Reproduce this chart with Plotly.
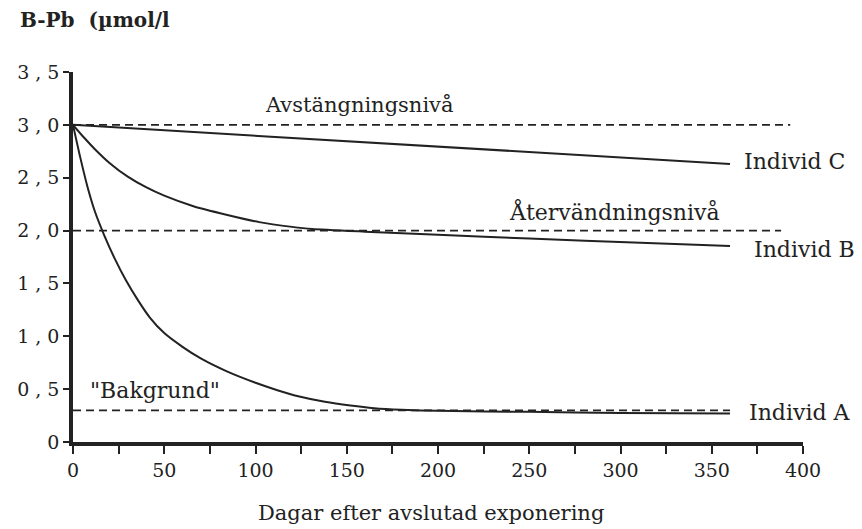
import plotly.graph_objects as go

# --- data ---
days_A = [0, 4, 8, 12, 17, 23, 29, 36, 42, 50, 60, 70, 84, 100, 112, 124, 138, 152, 165, 180, 200, 250, 300, 360]
vals_A = [3.0, 2.69, 2.41, 2.18, 1.96, 1.73, 1.53, 1.33, 1.18, 1.03, 0.90, 0.79, 0.67, 0.56, 0.49, 0.43, 0.38, 0.345, 0.32, 0.305, 0.295, 0.285, 0.275, 0.27]

days_B = [0, 6, 12, 20, 30, 40, 50, 66, 84, 102, 120, 131, 160, 200, 250, 311, 360]
vals_B = [3.0, 2.88, 2.77, 2.64, 2.51, 2.41, 2.33, 2.23, 2.15, 2.08, 2.035, 2.015, 1.99, 1.96, 1.925, 1.885, 1.855]

days_C = [0, 360]
vals_C = [3.0, 2.63]

ref_levels = [3.0, 2.0, 0.3]
ref_ends = [393, 388, 360]

y_tickvals = [0, 0.5, 1.0, 1.5, 2.0, 2.5, 3.0, 3.5]
y_ticktext = ["0", "0 , 5", "1 , 0", "1 , 5", "2 , 0", "2 , 5", "3 , 0", "3 , 5"]
x_tickvals = [0, 50, 100, 150, 200, 250, 300, 350, 400]
x_minor_tickvals = [25, 75, 125, 175, 225, 275, 325, 375]

ink = "#222222"
FONT = "DejaVu Serif"

fig = go.Figure()

for lvl, end in zip(ref_levels, ref_ends):
    fig.add_trace(go.Scatter(x=[0, end], y=[lvl, lvl], mode="lines",
                             line=dict(color=ink, width=1.8, dash="8px,5px"),
                             showlegend=False, hoverinfo="skip"))

for xs, ys in [(days_A, vals_A), (days_B, vals_B), (days_C, vals_C)]:
    fig.add_trace(go.Scatter(x=xs, y=ys, mode="lines",
                             line=dict(color=ink, width=2, shape="spline", smoothing=0.6),
                             showlegend=False, hoverinfo="skip"))

annotations = [
    dict(x=104, y=3.19, text="Avstängningsnivå", size=21),
    dict(x=238, y=2.18, text="Återvändningsnivå", size=22),
    dict(x=8, y=0.49, text="\"Bakgrund\"", size=22),
    dict(x=366.5, y=2.65, text="Individ C", size=22),
    dict(x=372, y=1.82, text="Individ B", size=22),
    dict(x=369.5, y=0.275, text="Individ A", size=22),
]
for a in annotations:
    fig.add_annotation(xref="x", yref="y", x=a["x"], y=a["y"], text=a["text"],
                       showarrow=False, xanchor="left", yanchor="middle",
                       font=dict(family=FONT, size=a["size"], color=ink))

fig.add_annotation(xref="paper", yref="paper", x=-0.0753, y=1.1405,
                   text="<b>B-Pb  (µmol/l</b>", showarrow=False, xanchor="left", yanchor="middle",
                   font=dict(family=FONT, size=20, color=ink))
fig.add_annotation(xref="paper", yref="paper", x=0.49, y=-0.193,
                   text="Dagar efter avslutad exponering", showarrow=False,
                   xanchor="center", yanchor="middle",
                   font=dict(family=FONT, size=21, color=ink))

# page body has an 8px margin: size the figure to fit the 862x529 window
fig.update_layout(
    width=854, height=521,
    margin=dict(l=65, r=59, t=64, b=87),
    paper_bgcolor="white", plot_bgcolor="white",
    showlegend=False,
)
fig.update_xaxes(range=[0, 400], tickvals=x_tickvals, ticks="outside", ticklen=8, tickwidth=2,
                 tickcolor=ink, showline=True, linewidth=3.5, linecolor=ink, showgrid=False,
                 zeroline=False, automargin=False, tickfont=dict(family=FONT, size=19, color=ink),
                 minor=dict(tickvals=x_minor_tickvals, ticks="outside",
                            ticklen=8, tickwidth=2, tickcolor=ink))
fig.update_yaxes(range=[0, 3.5], tickvals=y_tickvals, ticktext=y_ticktext, ticks="outside",
                 ticklen=6, tickwidth=2, tickcolor=ink, showline=True, linewidth=3.5, linecolor=ink,
                 showgrid=False, zeroline=False, automargin=False,
                 tickfont=dict(family=FONT, size=19, color=ink))

fig.write_html("out.html")
